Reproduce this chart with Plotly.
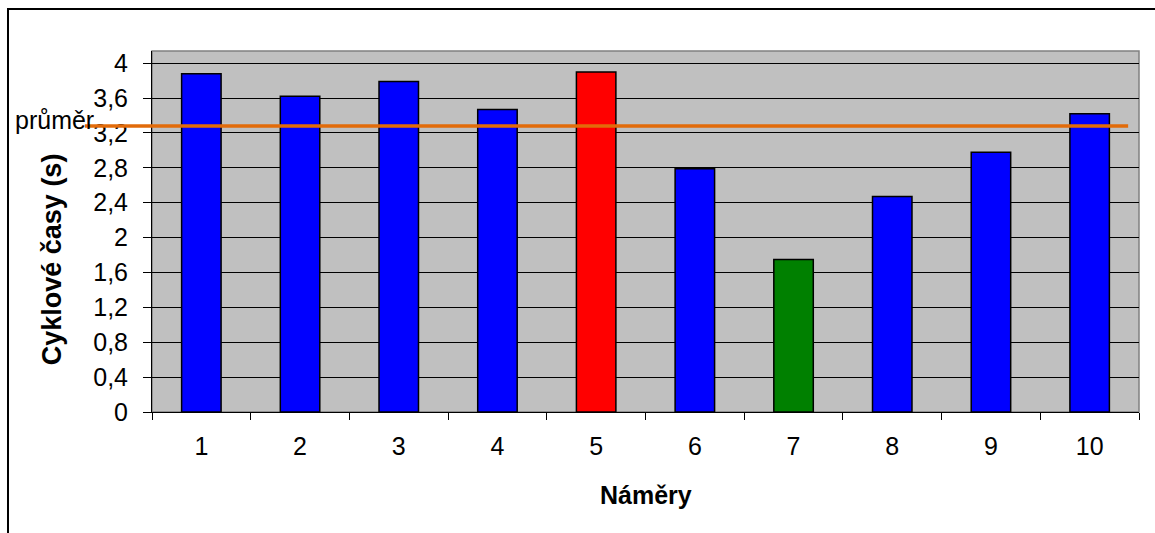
import plotly.graph_objects as go

# Měření cyklových časů
namery = ["1", "2", "3", "4", "5", "6", "7", "8", "9", "10"]
cyklove_casy = [3.88, 3.62, 3.79, 3.47, 3.90, 2.79, 1.75, 2.47, 2.98, 3.42]
barvy = ["#0000FF", "#0000FF", "#0000FF", "#0000FF", "#FF0000",
         "#0000FF", "#008000", "#0000FF", "#0000FF", "#0000FF"]
prumer = 3.28

y_ticks = [0, 0.4, 0.8, 1.2, 1.6, 2, 2.4, 2.8, 3.2, 3.6, 4]
y_tick_labels = ["0", "0,4", "0,8", "1,2", "1,6", "2", "2,4", "2,8", "3,2", "3,6", "4"]

FONT = "Liberation Sans, Arial, sans-serif"

fig = go.Figure()
fig.add_trace(go.Bar(
    x=namery,
    y=cyklove_casy,
    width=0.4,
    marker=dict(color=barvy, line=dict(color="#000000", width=1.5)),
    hoverinfo="x+y",
))

# outer chart frame and plot-area border
shapes = [
    dict(type="rect", xref="paper", yref="paper",
         x0=-0.1459, x1=1.06, y0=-0.40, y1=1.1163,
         line=dict(color="#000000", width=2), layer="below"),
    dict(type="rect", xref="paper", yref="paper",
         x0=0, x1=1, y0=0, y1=1,
         line=dict(color="#808080", width=1.5), layer="below"),
    # average line
    dict(type="line", xref="paper", yref="y",
         x0=-0.068, x1=0.989, y0=prumer, y1=prumer,
         line=dict(color="#E26B0A", width=3.5), layer="above"),
]

annotations = [
    dict(text="průměr", xref="paper", yref="y", x=-0.141, y=prumer,
         xanchor="left", yanchor="middle", yshift=6, showarrow=False,
         font=dict(family=FONT, size=25, color="#000000")),
    dict(text="<b>Cyklové časy (s)</b>", xref="paper", yref="paper",
         x=-0.101, y=0.424, xanchor="center", yanchor="middle",
         textangle=-90, showarrow=False,
         font=dict(family=FONT, size=27, color="#000000")),
    dict(text="<b>Náměry</b>", xref="paper", yref="paper",
         x=0.5, y=-0.23, xanchor="center", yanchor="middle",
         showarrow=False,
         font=dict(family=FONT, size=25, color="#000000")),
]

fig.update_layout(
    width=1155, height=533,
    margin=dict(l=152, r=16, t=51, b=121),
    paper_bgcolor="#FFFFFF",
    plot_bgcolor="#C0C0C0",
    showlegend=False,
    bargap=0.6,
    font=dict(family=FONT, size=25, color="#000000"),
    shapes=shapes,
    annotations=annotations,
)

fig.update_xaxes(
    type="category",
    showgrid=False,
    showline=True, linecolor="#000000", linewidth=1,
    ticks="outside", tickson="boundaries", ticklen=7,
    tickcolor="#000000", tickwidth=1,
    ticklabelstandoff=12,
    tickfont=dict(family=FONT, size=25, color="#000000"),
    zeroline=False,
)

fig.update_yaxes(
    range=[0, 4.14],
    tickvals=y_ticks, ticktext=y_tick_labels,
    showgrid=True, gridcolor="#000000", gridwidth=1,
    showline=True, linecolor="#000000", linewidth=1,
    ticks="outside", ticklen=8, tickcolor="#000000", tickwidth=1,
    ticklabelstandoff=10,
    tickfont=dict(family=FONT, size=25, color="#000000"),
    zeroline=False,
)

fig.write_html("out.html")
